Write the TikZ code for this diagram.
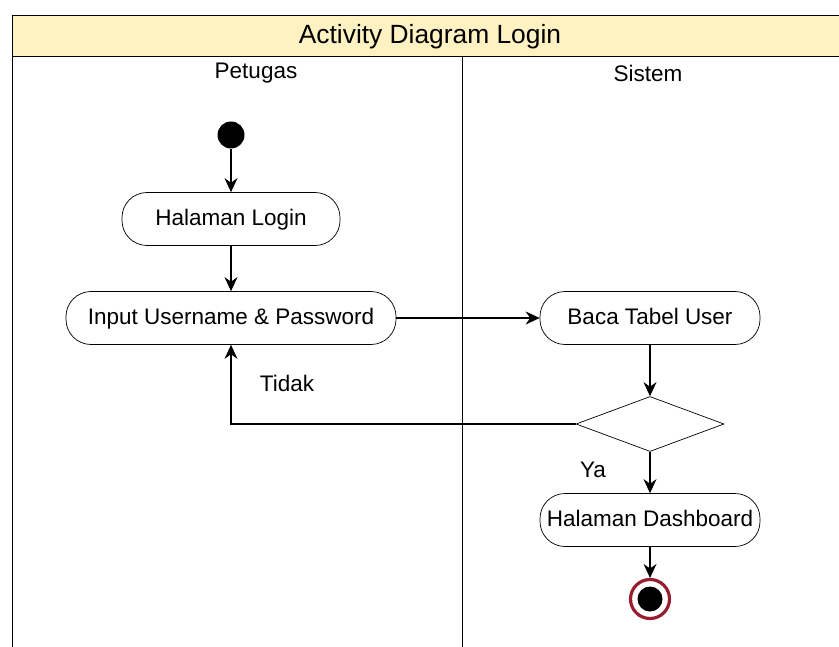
\documentclass[tikz,border=0pt]{standalone}
\usepackage{fontspec}
\setmainfont{Liberation Sans}
\usetikzlibrary{shapes.geometric,arrows.meta}

\definecolor{titlefill}{RGB}{255,242,194}
\definecolor{endred}{RGB}{150,30,45}

\begin{document}
\begin{tikzpicture}[->,>={Stealth[length=2.8mm,width=2.6mm]},semithick,font=\fontsize{12.8}{15}\selectfont,
  activity/.style={draw,rectangle,rounded corners=0.5cm,minimum height=1.06cm,inner sep=0pt,text height=1.5ex,text depth=0.2ex,thin},
  decision/.style={draw,diamond,aspect=2.7,minimum width=2.96cm,minimum height=1.1cm,inner sep=0pt,thin}]
\useasboundingbox (0,0) rectangle (16.78,-12.94);
% swimlanes
\draw[-,thin,fill=titlefill] (0.24,-0.30) rectangle (17.2,-1.12);
\draw[-,thin] (0.24,-1.12) -- (0.24,-13.2);
\draw[-,thin] (9.24,-1.12) -- (9.24,-13.2);
\node (title) at (8.6,-0.74) {\fontsize{15}{18}\selectfont Activity Diagram Login};
\node (petugas) at (5.12,-1.46) {Petugas};
\node (sistem) at (12.96,-1.46) {Sistem};
% activities
\node[circle,fill=black,minimum size=0.54cm,inner sep=0pt] (start) at (4.62,-2.70) {};
\node[activity,minimum width=4.36cm] (login) at (4.62,-4.38) {Halaman Login};
\node[activity,minimum width=6.6cm] (input) at (4.62,-6.36) {Input Username \& Password};
\node[activity,minimum width=4.4cm] (baca) at (13.0,-6.36) {Baca Tabel User};
\node[decision] (cek) at (13.0,-8.48) {};
\node[activity,minimum width=4.4cm] (dashboard) at (13.0,-10.40) {Halaman Dashboard};
\node[circle,draw=endred,line width=1.8pt,fill=white,minimum size=0.78cm,inner sep=0pt] (end) at (13.0,-11.98) {};
\node[circle,fill=black,minimum size=0.5cm,inner sep=0pt] (endcore) at (end) {};
\node (tidak) at (5.74,-7.66) {Tidak};
\node (ya) at (11.86,-9.40) {Ya};
% flows
\path (start) edge (login);
\path (login) edge (input);
\path (input) edge (baca);
\path (baca) edge (cek);
\path (cek) edge (dashboard);
\path (dashboard) edge (end);
\draw (cek.west) -| (input.south);
\end{tikzpicture}
\end{document}
